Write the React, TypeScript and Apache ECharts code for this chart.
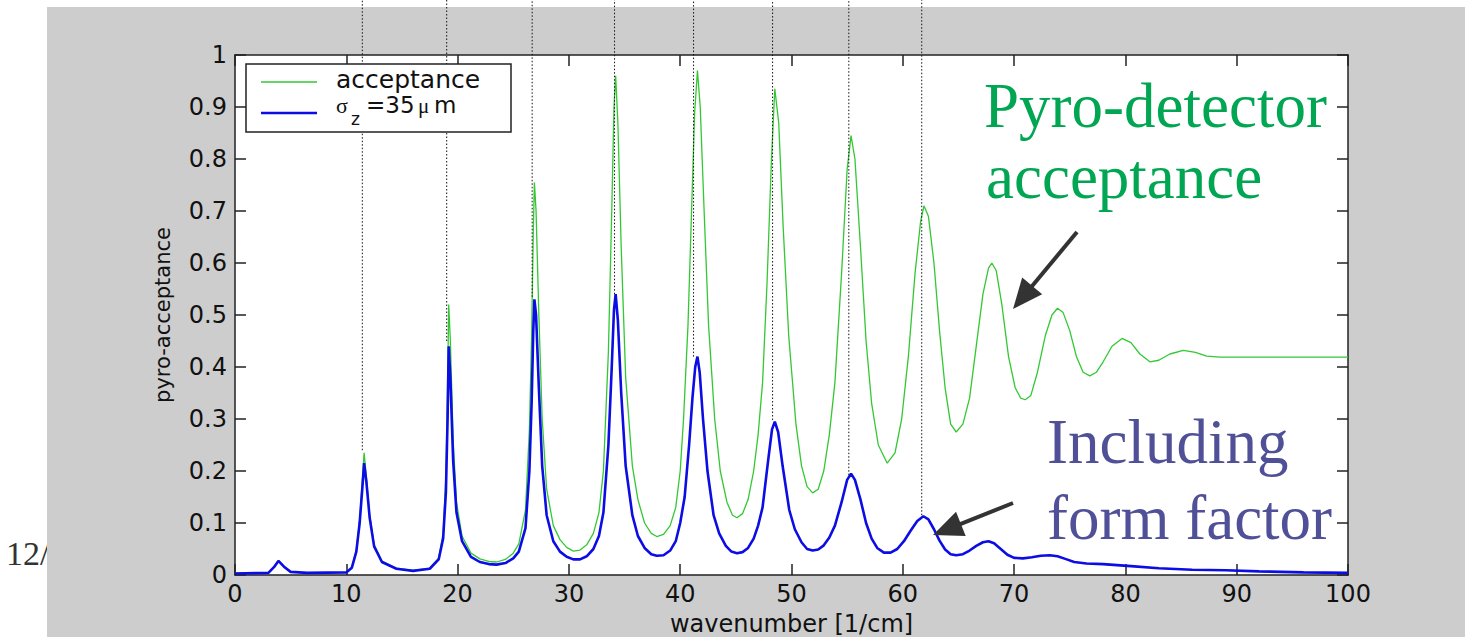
import React, { useEffect, useRef } from "react";
import * as echarts from "echarts";

// ---- data ----
const seriesNames = ["acceptance", "σz=35μm"];

// Pyro-detector acceptance: [wavenumber, acceptance]
const acceptance: [number, number][] = [
  [0, 0.003], [3.0, 0.004], [3.5, 0.015], [3.9, 0.028], [4.4, 0.017], [5.0, 0.006], [6.5, 0.004],
  [10.0, 0.005], [10.5, 0.015], [10.9, 0.047], [11.2, 0.105], [11.45, 0.185], [11.6, 0.235], [11.8, 0.19],
  [12.1, 0.115], [12.5, 0.058], [13.2, 0.027], [14.5, 0.013], [16.0, 0.009], [17.5, 0.013], [18.3, 0.033],
  [18.7, 0.08], [18.95, 0.19], [19.1, 0.36], [19.2, 0.52], [19.35, 0.45], [19.6, 0.26], [19.9, 0.14],
  [20.4, 0.075], [21.2, 0.042], [22.0, 0.031], [22.8, 0.026], [23.5, 0.025], [24.3, 0.03], [25.0, 0.042],
  [25.5, 0.06], [26.1, 0.125], [26.45, 0.28], [26.65, 0.46], [26.8, 0.66], [26.9, 0.755], [27.05, 0.7],
  [27.3, 0.5], [27.6, 0.3], [28.0, 0.165], [28.6, 0.095], [29.2, 0.068], [29.8, 0.053], [30.4, 0.046],
  [31.0, 0.048], [31.6, 0.058], [32.2, 0.08], [32.7, 0.12], [33.1, 0.2], [33.55, 0.43], [33.85, 0.7],
  [34.05, 0.9], [34.2, 0.96], [34.4, 0.87], [34.7, 0.63], [35.1, 0.38], [35.7, 0.21], [36.2, 0.145],
  [36.8, 0.1], [37.4, 0.08], [37.9, 0.074], [38.5, 0.078], [39.1, 0.095], [39.6, 0.13], [40.0, 0.2],
  [40.3, 0.3], [40.7, 0.48], [41.05, 0.72], [41.3, 0.89], [41.55, 0.97], [41.8, 0.9], [42.15, 0.7],
  [42.55, 0.48], [43.1, 0.3], [43.6, 0.2], [44.2, 0.14], [44.7, 0.115], [45.1, 0.11], [45.6, 0.118],
  [46.1, 0.145], [46.6, 0.2], [47.0, 0.27], [47.4, 0.37], [47.8, 0.56], [48.2, 0.8], [48.5, 0.935],
  [48.85, 0.87], [49.25, 0.67], [49.75, 0.46], [50.4, 0.29], [50.9, 0.21], [51.4, 0.17], [51.9, 0.158],
  [52.4, 0.165], [52.9, 0.2], [53.4, 0.27], [53.9, 0.37], [54.5, 0.58], [55.0, 0.78], [55.35, 0.845],
  [55.7, 0.8], [56.2, 0.63], [56.7, 0.45], [57.2, 0.33], [57.8, 0.25], [58.6, 0.215], [59.3, 0.235],
  [59.9, 0.3], [60.5, 0.42], [61.1, 0.58], [61.6, 0.68], [61.9, 0.71], [62.3, 0.69], [62.8, 0.6],
  [63.3, 0.47], [63.8, 0.36], [64.3, 0.29], [64.8, 0.275], [65.4, 0.29], [66.0, 0.34], [66.6, 0.44],
  [67.2, 0.54], [67.7, 0.59], [68.0, 0.6], [68.4, 0.585], [68.9, 0.52], [69.5, 0.42], [70.1, 0.36],
  [70.6, 0.34], [71.0, 0.337], [71.5, 0.345], [72.1, 0.39], [72.8, 0.46], [73.4, 0.5], [73.9, 0.513],
  [74.4, 0.505], [75.0, 0.47], [75.6, 0.42], [76.2, 0.39], [76.8, 0.383], [77.4, 0.39], [78.0, 0.41],
  [78.8, 0.44], [79.7, 0.455], [80.5, 0.447], [81.3, 0.425], [82.2, 0.41], [83.0, 0.413], [84.0, 0.425],
  [85.2, 0.432], [86.3, 0.428], [87.3, 0.421], [88.5, 0.419], [100, 0.419],
];

// Including form factor (sigma_z = 35 um): [wavenumber, acceptance]
const formFactor: [number, number][] = [
  [0, 0.003], [3.0, 0.004], [3.5, 0.015], [3.9, 0.027], [4.4, 0.016], [5.0, 0.006], [6.5, 0.004],
  [10.0, 0.005], [10.5, 0.014], [10.9, 0.045], [11.2, 0.1], [11.45, 0.17], [11.6, 0.215], [11.8, 0.18],
  [12.1, 0.11], [12.5, 0.055], [13.2, 0.025], [14.5, 0.012], [16.0, 0.008], [17.5, 0.012], [18.3, 0.03],
  [18.7, 0.07], [18.95, 0.16], [19.1, 0.3], [19.2, 0.44], [19.35, 0.38], [19.6, 0.22], [19.9, 0.12],
  [20.4, 0.065], [21.2, 0.035], [22.0, 0.025], [22.8, 0.021], [23.5, 0.02], [24.3, 0.023], [25.0, 0.032],
  [25.5, 0.045], [26.1, 0.09], [26.45, 0.2], [26.65, 0.33], [26.8, 0.47], [26.9, 0.53], [27.05, 0.5],
  [27.3, 0.36], [27.6, 0.21], [28.0, 0.115], [28.6, 0.065], [29.2, 0.045], [29.8, 0.035], [30.4, 0.03],
  [31.0, 0.03], [31.6, 0.036], [32.2, 0.05], [32.7, 0.075], [33.1, 0.12], [33.55, 0.25], [33.85, 0.4],
  [34.05, 0.51], [34.2, 0.54], [34.4, 0.49], [34.7, 0.35], [35.1, 0.21], [35.7, 0.115], [36.2, 0.075],
  [36.8, 0.052], [37.4, 0.04], [37.9, 0.037], [38.5, 0.038], [39.1, 0.047], [39.6, 0.065], [40.0, 0.1],
  [40.4, 0.15], [40.8, 0.25], [41.1, 0.34], [41.35, 0.4], [41.55, 0.42], [41.75, 0.39], [42.05, 0.3],
  [42.45, 0.2], [43.0, 0.115], [43.5, 0.08], [44.1, 0.056], [44.6, 0.045], [45.1, 0.042], [45.6, 0.044],
  [46.1, 0.052], [46.6, 0.07], [47.0, 0.095], [47.4, 0.13], [47.9, 0.22], [48.25, 0.28], [48.5, 0.295],
  [48.8, 0.275], [49.2, 0.21], [49.8, 0.125], [50.3, 0.088], [50.9, 0.063], [51.4, 0.05], [51.9, 0.047],
  [52.4, 0.049], [52.9, 0.057], [53.4, 0.072], [53.9, 0.095], [54.5, 0.14], [55.0, 0.183], [55.35, 0.195],
  [55.7, 0.183], [56.2, 0.145], [56.7, 0.1], [57.2, 0.07], [57.7, 0.052], [58.3, 0.043], [58.9, 0.043],
  [59.5, 0.05], [60.1, 0.065], [60.7, 0.085], [61.3, 0.104], [61.85, 0.113], [62.3, 0.107], [62.8, 0.088],
  [63.3, 0.066], [63.8, 0.049], [64.3, 0.04], [64.8, 0.038], [65.4, 0.04], [66.0, 0.047], [66.6, 0.056],
  [67.2, 0.063], [67.7, 0.065], [68.2, 0.061], [68.8, 0.05], [69.4, 0.039], [70.0, 0.033], [70.8, 0.032],
  [71.6, 0.034], [72.4, 0.037], [73.2, 0.038], [73.9, 0.036], [74.6, 0.031], [75.4, 0.025], [76.5, 0.022],
  [78.0, 0.021], [80.5, 0.017], [83.0, 0.013], [86.0, 0.01], [89.0, 0.009], [92.0, 0.007], [96.0, 0.005],
  [100, 0.004],
];

// dotted vertical marker lines: wavenumber and the value where they stop
const markerX = [11.44, 19.02, 26.7, 34.1, 41.2, 48.3, 55.15, 61.7];
const markerEnd = [0.24, 0.45, 0.535, 0.54, 0.42, 0.298, 0.192, 0.115];

const xTicks = { min: 0, max: 100, interval: 10 };
const yTicks = { min: 0, max: 1, interval: 0.1 };

const xName = "wavenumber [1/cm]";
const yName = "pyro-acceptance";
const annotationGreen = ["Pyro-detector", "acceptance"];
const annotationBlue = ["Including", "form factor"];

function arrow(x1: number, y1: number, x2: number, y2: number, color: string) {
  const dx = x2 - x1;
  const dy = y2 - y1;
  const L = Math.hypot(dx, dy);
  const ux = dx / L;
  const uy = dy / L;
  const headLen = 30;
  const headW = 13;
  const bx = x2 - ux * headLen;
  const by = y2 - uy * headLen;
  return [
    { type: "line", z: 20, shape: { x1, y1, x2: bx + ux * 2, y2: by + uy * 2 }, style: { stroke: color, lineWidth: 4 } },
    {
      type: "polygon",
      z: 20,
      shape: { points: [[x2, y2], [bx - uy * headW, by + ux * headW], [bx + uy * headW, by - ux * headW]] },
      style: { fill: color },
    },
  ];
}

export default function App() {
  const ref = useRef<HTMLDivElement>(null);

  useEffect(() => {
    document.body.style.margin = "0";
    const chart = echarts.init(ref.current!, null, { renderer: "svg" });
    const axisColor = "#222";
    const font = "DejaVu Sans";
    const serif = "'Liberation Serif', 'Times New Roman', serif";

    const baseX = {
      type: "value",
      min: xTicks.min,
      max: xTicks.max,
      interval: xTicks.interval,
      splitLine: { show: false },
      axisLine: { show: true, onZero: false, lineStyle: { color: axisColor, width: 1.5 } },
      axisTick: { show: true, inside: true, length: 11, lineStyle: { color: axisColor, width: 1.5 } },
    };
    const baseY = {
      type: "value",
      min: yTicks.min,
      max: yTicks.max,
      interval: yTicks.interval,
      splitLine: { show: false },
      axisLine: { show: true, onZero: false, lineStyle: { color: axisColor, width: 1.5 } },
      axisTick: { show: true, inside: true, length: 11, lineStyle: { color: axisColor, width: 1.5 } },
    };

    const option: any = {
      animation: false,
      backgroundColor: "#ffffff",
      grid: {
        left: 235,
        right: 117,
        top: 55,
        bottom: 62,
        containLabel: false,
        outerBoundsMode: "none",
        show: true,
        backgroundColor: "#ffffff",
        borderWidth: 0,
      },
      xAxis: [
        {
          ...baseX,
          position: "bottom",
          name: xName,
          nameLocation: "middle",
          nameGap: 37,
          nameTextStyle: { fontFamily: font, fontSize: 24, color: "#111" },
          axisLabel: { show: true, margin: 7, fontFamily: font, fontSize: 24, color: "#111" },
        },
        { ...baseX, position: "top", axisLabel: { show: false } },
      ],
      yAxis: [
        {
          ...baseY,
          position: "left",
          name: yName,
          nameLocation: "middle",
          nameGap: 62,
          nameTextStyle: { fontFamily: font, fontSize: 21, color: "#111" },
          axisLabel: {
            show: true,
            margin: 8,
            fontFamily: font,
            fontSize: 24,
            color: "#111",
            formatter: (v: number) => String(+v.toFixed(1)),
          },
        },
        { ...baseY, position: "right", axisLabel: { show: false } },
      ],
      series: [
        {
          name: seriesNames[0],
          type: "line",
          data: acceptance,
          symbol: "none",
          lineStyle: { color: "#33c833", width: 1.3 },
          z: 3,
        },
        {
          name: seriesNames[1],
          type: "line",
          data: formFactor,
          symbol: "none",
          lineStyle: { color: "#0c0ce4", width: 2.6 },
          z: 4,
        },
        {
          name: "markers",
          type: "custom",
          clip: false,
          z: 5,
          data: markerX.map((x, i) => [x, markerEnd[i]]),
          renderItem: (params: any, api: any) => {
            const p = api.coord([api.value(0), api.value(1)]);
            return {
              type: "line",
              shape: { x1: p[0], y1: p[1], x2: p[0], y2: 0 },
              style: { stroke: "#111", lineWidth: 1, lineDash: [1.5, 2] },
            };
          },
        },
      ],
      graphic: [
        // text partly hidden under the grey panel
        { type: "text", z: -20, x: 6, y: 553, style: { text: "12/", font: `34px ${serif}`, fill: "#333", textVerticalAlign: "middle" } },
        { type: "rect", z: -10, shape: { x: 47, y: 7, width: 1418, height: 630 }, style: { fill: "#cdcdcd" } },
        // legend box
        { type: "rect", z: 10, shape: { x: 246, y: 64, width: 265, height: 68 }, style: { fill: "#fff", stroke: "#222", lineWidth: 1.5 } },
        { type: "line", z: 11, shape: { x1: 261, y1: 82, x2: 317, y2: 82 }, style: { stroke: "#33c833", lineWidth: 1.3 } },
        { type: "line", z: 11, shape: { x1: 261, y1: 113, x2: 317, y2: 113 }, style: { stroke: "#0c0ce4", lineWidth: 2.6 } },
        { type: "text", z: 11, x: 336, y: 79, style: { text: seriesNames[0], font: `25px ${font}`, fill: "#111", textVerticalAlign: "middle" } },
        { type: "text", z: 11, x: 336, y: 105, style: { text: "σ", font: `22px ${serif}`, fill: "#111", textVerticalAlign: "middle" } },
        { type: "text", z: 11, x: 351, y: 119, style: { text: "z", font: `17px ${font}`, fill: "#111", textVerticalAlign: "middle" } },
        { type: "text", z: 11, x: 366, y: 105, style: { text: "=35", font: `23px ${font}`, fill: "#111", textVerticalAlign: "middle" } },
        { type: "text", z: 11, x: 418, y: 106, style: { text: "μ", font: `21px ${serif}`, fill: "#111", textVerticalAlign: "middle" } },
        { type: "text", z: 11, x: 434, y: 105, style: { text: "m", font: `23px ${font}`, fill: "#111", textVerticalAlign: "middle" } },
        // annotations
        { type: "text", z: 15, x: 984, y: 106, style: { text: annotationGreen[0], font: `63px ${serif}`, fill: "#00a651", textVerticalAlign: "middle" } },
        { type: "text", z: 15, x: 986, y: 177, style: { text: annotationGreen[1], font: `63px ${serif}`, fill: "#00a651", textVerticalAlign: "middle" } },
        { type: "text", z: 15, x: 1047, y: 442, style: { text: annotationBlue[0], font: `63px ${serif}`, fill: "#4f5097", textVerticalAlign: "middle" } },
        { type: "text", z: 15, x: 1047, y: 518, style: { text: annotationBlue[1], font: `63px ${serif}`, fill: "#4f5097", textVerticalAlign: "middle" } },
        ...arrow(1077, 232, 1013, 309, "#333"),
        ...arrow(1013, 503, 933, 535, "#333"),
      ],
    };

    chart.setOption(option);
    return () => chart.dispose();
  }, []);

  return (
    <div
      ref={ref}
      style={{ position: "absolute", left: 0, top: 0, width: 1465, height: 637, background: "#fff" }}
    />
  );
}
